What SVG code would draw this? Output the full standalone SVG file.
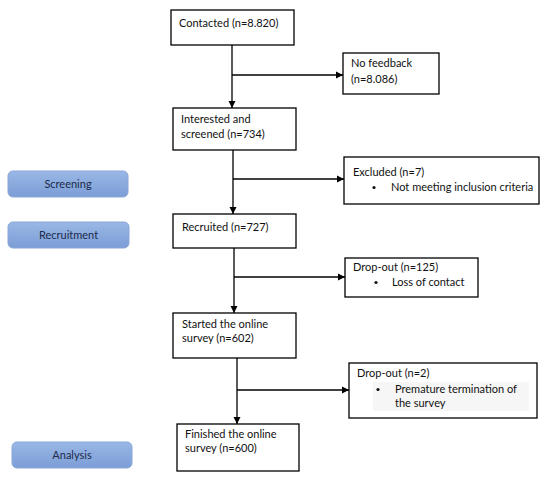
<svg xmlns="http://www.w3.org/2000/svg" width="550" height="481" viewBox="0 0 550 481">
<defs>
<linearGradient id="pg" x1="0" y1="0" x2="0" y2="1">
<stop offset="0" stop-color="#9ab8e6"/>
<stop offset="1" stop-color="#7b9dd6"/>
</linearGradient>
<marker id="ah" markerWidth="8" markerHeight="8" refX="7" refY="4" orient="auto" markerUnits="userSpaceOnUse">
<path d="M0,0.5 L7,4 L0,7.5 Z" fill="#000"/>
</marker>
<style>
.box{fill:#fff;stroke:#000;stroke-width:1.3}
.pill{fill:url(#pg);stroke:#8aa6d8;stroke-width:1}
.t{font-family:Lato,"Open Sans","Liberation Sans",sans-serif;font-size:11px;fill:#111}
.pt{font-family:Lato,"Open Sans","Liberation Sans",sans-serif;font-size:11px;fill:#1c2a4a;text-anchor:middle}
.ln{stroke:#000;stroke-width:1.3;fill:none}
</style>
</defs>
<rect width="550" height="481" fill="#fff"/>
<g id="screening"><rect class="pill" x="8" y="171" width="120" height="26" rx="5"/><text class="pt" x="68" y="188">Screening</text></g>
<g id="recruitment"><rect class="pill" x="8" y="222" width="121" height="26" rx="5"/><text class="pt" x="68.5" y="239">Recruitment</text></g>
<g id="analysis"><rect class="pill" x="12" y="442" width="120" height="26" rx="5"/><text class="pt" x="72" y="459">Analysis</text></g>
<g id="connectors">
<line class="ln" x1="232" y1="45" x2="232" y2="108" marker-end="url(#ah)"/>
<line class="ln" x1="232" y1="75" x2="343" y2="75" marker-end="url(#ah)"/>
<line class="ln" x1="233" y1="150" x2="233" y2="214" marker-end="url(#ah)"/>
<line class="ln" x1="233" y1="179" x2="344" y2="179" marker-end="url(#ah)"/>
<line class="ln" x1="234" y1="248" x2="234" y2="313" marker-end="url(#ah)"/>
<line class="ln" x1="234" y1="277" x2="345" y2="277" marker-end="url(#ah)"/>
<line class="ln" x1="237" y1="358" x2="237" y2="424" marker-end="url(#ah)"/>
<line class="ln" x1="237" y1="390" x2="349" y2="390" marker-end="url(#ah)"/>
</g>
<g id="contacted"><rect class="box" x="171" y="10" width="123" height="35"/><text class="t" x="179" y="27">Contacted (n=8.820)</text></g>
<g id="nofeedback"><rect class="box" x="343" y="53" width="96" height="41"/><text class="t" x="351" y="67">No feedback</text><text class="t" x="351" y="83">(n=8.086)</text></g>
<g id="interested"><rect class="box" x="173" y="108" width="123" height="42"/><text class="t" x="181" y="123">Interested and</text><text class="t" x="181" y="138">screened (n=734)</text></g>
<g id="excluded"><rect class="box" x="344" y="157" width="195" height="47"/><text class="t" x="353" y="176">Excluded (n=7)</text><circle cx="374" cy="187.5" r="1.6" fill="#111"/><text class="t" x="391" y="191">Not meeting inclusion criteria</text></g>
<g id="recruited"><rect class="box" x="173" y="214" width="123" height="34"/><text class="t" x="182" y="231">Recruited (n=727)</text></g>
<g id="dropout125"><rect class="box" x="345" y="258" width="133" height="39"/><text class="t" x="353" y="271">Drop-out (n=125)</text><circle cx="376" cy="282.5" r="1.6" fill="#111"/><text class="t" x="392" y="286">Loss of contact</text></g>
<g id="started"><rect class="box" x="173" y="313" width="123" height="45"/><text class="t" x="182" y="328">Started the online</text><text class="t" x="182" y="342">survey (n=602)</text></g>
<g id="dropout2"><rect class="box" x="349" y="363" width="188" height="55"/><rect x="373" y="382" width="156" height="29" fill="#f6f6f6"/><text class="t" x="357" y="377">Drop-out (n=2)</text><circle cx="378" cy="389.5" r="1.6" fill="#111"/><text class="t" x="395" y="393">Premature termination of</text><text class="t" x="395" y="407">the survey</text></g>
<g id="finished"><rect class="box" x="177" y="424" width="122" height="47"/><text class="t" x="185" y="438">Finished the online</text><text class="t" x="185" y="452">survey (n=600)</text></g>
</svg>
